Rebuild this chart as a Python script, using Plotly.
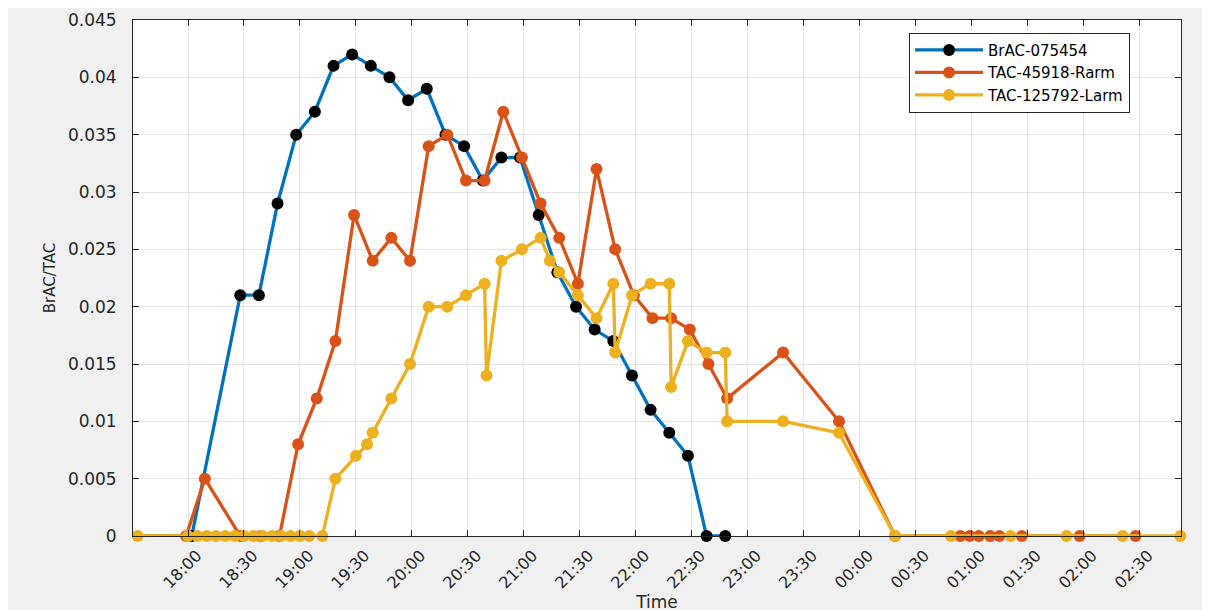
import plotly.graph_objects as go

# ---------------- data (clock times, values) ----------------
brac_times = ["18:02", "18:28", "18:38", "18:48", "18:58", "19:08", "19:18", "19:28",
              "19:38", "19:48", "19:58", "20:08", "20:18", "20:28", "20:38", "20:48",
              "20:58", "21:08", "21:18", "21:28", "21:38", "21:48", "21:58", "22:08",
              "22:18", "22:28", "22:38", "22:48"]
brac_values = [0, 0.021, 0.021, 0.029, 0.035, 0.037, 0.041, 0.042,
               0.041, 0.040, 0.038, 0.039, 0.035, 0.034, 0.031, 0.033,
               0.033, 0.028, 0.023, 0.020, 0.018, 0.017, 0.014, 0.011,
               0.009, 0.007, 0, 0]

rarm_times = ["17:30", "17:59", "18:09", "18:28", "18:39", "18:49", "18:59", "19:09",
              "19:19", "19:29", "19:39", "19:49", "19:59", "20:09", "20:19", "20:29",
              "20:39", "20:49", "20:59", "21:09", "21:19", "21:29", "21:39", "21:49",
              "21:59", "22:09", "22:19", "22:29", "22:39", "22:49", "23:19", "23:49",
              "00:19", "00:54", "00:59", "01:04", "01:10", "01:15", "01:27", "01:58",
              "02:28"]
rarm_values = [0, 0, 0.005, 0, 0, 0, 0.008, 0.012,
               0.017, 0.028, 0.024, 0.026, 0.024, 0.034, 0.035, 0.031,
               0.031, 0.037, 0.033, 0.029, 0.026, 0.022, 0.032, 0.025,
               0.021, 0.019, 0.019, 0.018, 0.015, 0.012, 0.016, 0.010,
               0, 0, 0, 0, 0, 0, 0, 0,
               0]

larm_times = ["17:33", "18:00", "18:05", "18:10", "18:15", "18:20", "18:25", "18:30",
              "18:35", "18:40", "18:45", "18:50", "18:55", "19:00", "19:05", "19:12",
              "19:19", "19:30", "19:36", "19:39", "19:49", "19:59", "20:09", "20:19",
              "20:29", "20:39", "20:40", "20:48", "20:59", "21:09", "21:14", "21:19",
              "21:29", "21:39", "21:48", "21:49", "21:58", "22:08", "22:18", "22:19",
              "22:28", "22:38", "22:48", "22:49", "23:19", "23:49", "00:19", "00:49",
              "01:21", "01:51", "02:21", "02:52"]
larm_values = [0, 0, 0, 0, 0, 0, 0, 0,
               0, 0, 0, 0, 0, 0, 0, 0,
               0.005, 0.007, 0.008, 0.009, 0.012, 0.015, 0.020, 0.020,
               0.021, 0.022, 0.014, 0.024, 0.025, 0.026, 0.024, 0.023,
               0.021, 0.019, 0.022, 0.016, 0.021, 0.022, 0.022, 0.013,
               0.017, 0.016, 0.016, 0.010, 0.010, 0.009, 0, 0,
               0, 0, 0, 0]

tick_labels = ["18:00", "18:30", "19:00", "19:30", "20:00", "20:30", "21:00", "21:30",
               "22:00", "22:30", "23:00", "23:30", "00:00", "00:30", "01:00", "01:30",
               "02:00", "02:30"]
y_ticks = [0, 0.005, 0.01, 0.015, 0.02, 0.025, 0.03, 0.035, 0.04, 0.045]
y_tick_labels = ["0", "0.005", "0.01", "0.015", "0.02", "0.025", "0.03", "0.035", "0.04", "0.045"]


def to_dt(hhmm):
    """Clock time -> full timestamp; hours before noon belong to the next day."""
    h = int(hhmm.split(":")[0])
    day = "2020-01-02" if h < 12 else "2020-01-01"
    return f"{day} {hhmm}:00"


FONT = "DejaVu Sans, Liberation Sans, Arial, sans-serif"
AX = "#262626"

fig = go.Figure()
series = [
    ("BrAC-075454", brac_times, brac_values, "#0072BD", "#000000"),
    ("TAC-45918-Rarm", rarm_times, rarm_values, "#D95319", "#D95319"),
    ("TAC-125792-Larm", larm_times, larm_values, "#EDB120", "#EDB120"),
]
for name, times, vals, lc, mc in series:
    fig.add_trace(go.Scatter(
        x=[to_dt(t) for t in times], y=vals, name=name,
        mode="lines+markers",
        line=dict(color=lc, width=3.3),
        marker=dict(color=mc, size=12, line=dict(width=0)),
        cliponaxis=False,
    ))

fig.update_layout(
    width=1210, height=610,
    paper_bgcolor="#f0f0f0", plot_bgcolor="#ffffff",
    margin=dict(l=125, r=37, t=12, b=82),
    font=dict(family=FONT, size=15, color=AX),
    showlegend=True,
    legend=dict(
        x=0.7405, y=0.9754, xanchor="left", yanchor="top",
        bgcolor="#ffffff", bordercolor=AX, borderwidth=1,
        font=dict(family=FONT, size=15, color="#000000"),
        itemwidth=68, tracegroupgap=0,
    ),
)

fig.update_xaxes(
    type="date",
    range=["2020-01-01 17:30:30", "2020-01-02 02:52:20"],
    tickvals=[to_dt(t) for t in tick_labels], ticktext=tick_labels,
    tickangle=-45,
    tickfont=dict(family=FONT, size=16, color=AX),
    ticklabelshift=9, ticklabelstandoff=3,
    ticks="inside", ticklen=6, tickcolor=AX, tickwidth=1,
    showline=True, linecolor=AX, linewidth=1, mirror="ticks",
    showgrid=True, gridcolor="#e3e3e3", gridwidth=1,
    zeroline=False, automargin=False,
    title=dict(text="Time", font=dict(family=FONT, size=17, color=AX), standoff=0),
)
fig.update_yaxes(
    range=[0, 0.045],
    tickvals=y_ticks, ticktext=y_tick_labels,
    tickfont=dict(family=FONT, size=17, color=AX),
    ticklabelstandoff=12,
    ticks="inside", ticklen=6, tickcolor=AX, tickwidth=1,
    showline=True, linecolor=AX, linewidth=1, mirror="ticks",
    showgrid=True, gridcolor="#e3e3e3", gridwidth=1,
    zeroline=False, automargin=False,
    title=dict(text="BrAC/TAC", font=dict(family=FONT, size=15, color=AX), standoff=8),
)

fig.write_html("out.html")
